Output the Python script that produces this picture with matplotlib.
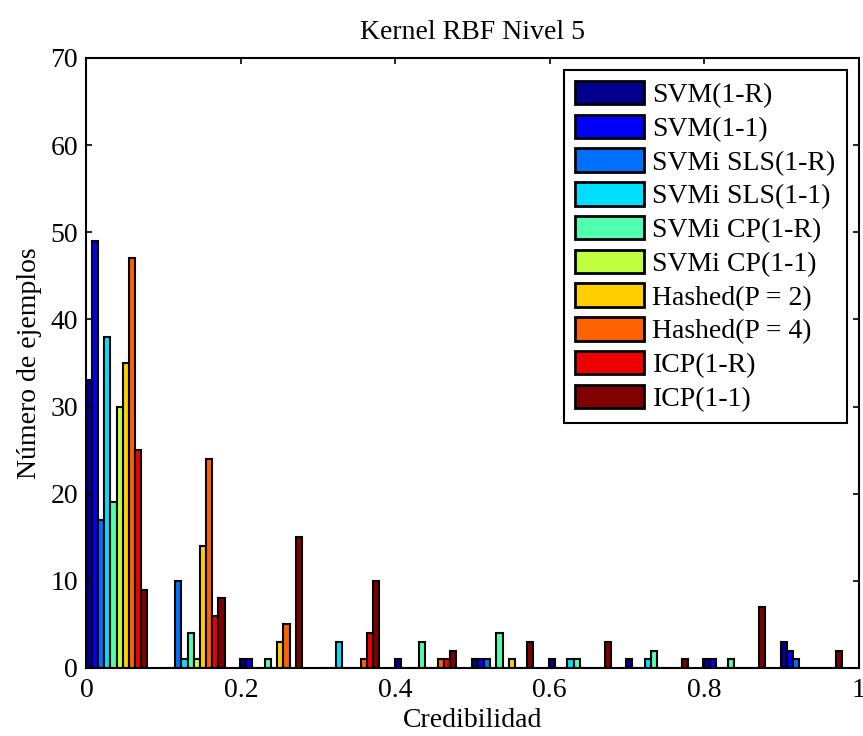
import matplotlib
matplotlib.use("Agg")
import matplotlib.pyplot as plt
import numpy as np

# ================= data =================
bin_centers = [0.039, 0.139, 0.239, 0.339, 0.439, 0.539, 0.639, 0.739, 0.839, 0.939]

series_names = ["SVM(1-R)", "SVM(1-1)", "SVMi SLS(1-R)", "SVMi SLS(1-1)",
                "SVMi CP(1-R)", "SVMi CP(1-1)", "Hashed(P = 2)", "Hashed(P = 4)",
                "ICP(1-R)", "ICP(1-1)"]

svm_1r = [33, 0, 1, 0, 1, 1, 1, 1, 1, 3]
svm_11 = [49, 0, 1, 0, 0, 1, 0, 0, 1, 2]
svmi_sls_1r = [17, 10, 0, 0, 0, 1, 0, 0, 0, 1]
svmi_sls_11 = [38, 1, 0, 3, 0, 0, 1, 1, 0, 0]
svmi_cp_1r = [19, 4, 1, 0, 3, 4, 1, 2, 1, 0]
svmi_cp_11 = [30, 1, 0, 0, 0, 0, 0, 0, 0, 0]
hashed_p2 = [35, 14, 3, 0, 0, 1, 0, 0, 0, 0]
hashed_p4 = [47, 24, 5, 1, 1, 0, 0, 0, 0, 0]
icp_1r = [25, 6, 0, 4, 1, 0, 0, 0, 0, 0]
icp_11 = [9, 8, 15, 10, 2, 3, 3, 1, 7, 2]

all_series = [svm_1r, svm_11, svmi_sls_1r, svmi_sls_11, svmi_cp_1r,
              svmi_cp_11, hashed_p2, hashed_p4, icp_1r, icp_11]

# MATLAB jet(64) entries picked by the bar series
colors = [(0, 0, 0.5625), (0, 0, 1), (0, 0.4375, 1), (0, 0.875, 1),
          (0.3125, 1, 0.6875), (0.75, 1, 0.25), (1, 0.8125, 0), (1, 0.375, 0),
          (0.9375, 0, 0), (0.5, 0, 0)]

# ================= draw the grouped bars =================
plt.rcParams["font.family"] = ["Liberation Serif", "DejaVu Serif"]
plt.rcParams["font.size"] = 20

fig = plt.figure(figsize=(8.63, 7.36), dpi=100)
ax = fig.add_axes([0.1002, 0.0924, 0.8946, 0.8288])

n = len(all_series)
group_width = 0.08
w = group_width / n
centers = np.array(bin_centers)

for i, (vals, name) in enumerate(zip(all_series, series_names)):
    ax.bar(centers + (i - (n - 1) / 2) * w, vals, width=w, color=colors[i],
           edgecolor="black", linewidth=1.5, label=name)

ax.set_xlim(0, 1)
ax.set_ylim(0, 70)
ax.set_xticks([0, 0.2, 0.4, 0.6, 0.8, 1])
ax.set_xticklabels(["0", "0.2", "0.4", "0.6", "0.8", "1"])
ax.set_yticks(range(0, 71, 10))
ax.tick_params(direction="in", top=True, right=True, length=4, width=1.2, pad=6)
ax.tick_params(axis="x", pad=7)
for sp in ax.spines.values():
    sp.set_linewidth(1.5)

ax.set_title("Kernel RBF Nivel 5", fontsize=20, pad=14)
ax.set_xlabel("Credibilidad", fontsize=20, labelpad=4)
ax.set_ylabel("Número de ejemplos", fontsize=20, labelpad=6)

leg = ax.legend(loc="upper right", fancybox=False, edgecolor="black",
                framealpha=1, handlelength=2.5, handleheight=0.93,
                handletextpad=0.3, labelspacing=0.23, borderpad=0.4,
                borderaxespad=0.42)
leg.get_frame().set_linewidth(1.5)
for p in leg.get_patches():
    p.set_linewidth(2)

plt.savefig("out.png", dpi=100)
plt.close()
